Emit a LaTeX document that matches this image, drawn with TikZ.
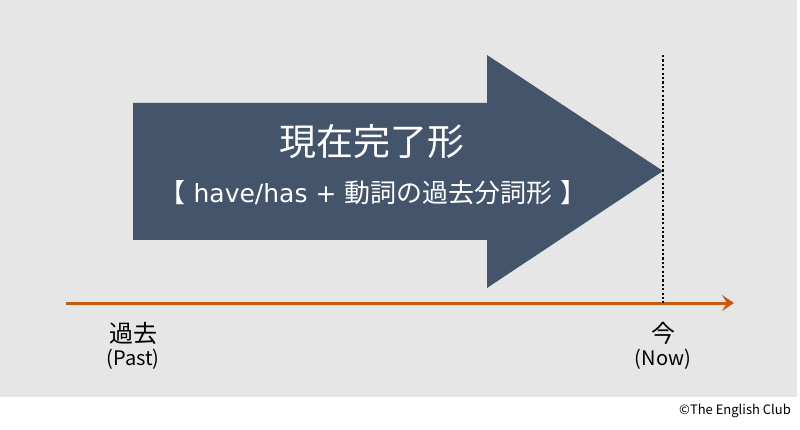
\documentclass[tikz,border=0pt]{standalone}
\usepackage{fontspec}
\setmainfont{Noto Sans CJK JP}
\newfontfamily\latinfont{DejaVu Sans}
\usetikzlibrary{arrows.meta}
\definecolor{bggray}{HTML}{E6E6E6}
\definecolor{navy}{HTML}{44546A}
\definecolor{rust}{HTML}{C55A11}
\tikzset{
  lbl/.style={inner sep=0pt, text=black, font=\fontsize{20}{22}\selectfont},
  cjklbl/.style={inner sep=0pt, text=black, font=\fontsize{24}{26}\selectfont},
  titletext/.style={inner sep=0pt, text=white},
}
\begin{document}
\begin{tikzpicture}[x=1pt,y=-1pt]
\useasboundingbox (0,0) rectangle (800,430);
\fill[white] (0,0) rectangle (800,430);
\fill[bggray] (0,0) rectangle (797,397);
% big arrow
\coordinate (tip) at (663,171);
\fill[navy] (133,103) -- (487,103) -- (487,55) -- (tip) -- (487,288) -- (487,240) -- (133,240) -- cycle;
\node[titletext, font=\fontsize{37}{40}\selectfont] (title) at (372,142) {現在完了形};
\node[titletext, font=\fontsize{26}{28}\selectfont] (sub) at (373,193) {【{\latinfont\fontsize{25}{28}\selectfont\ have/has + }動詞の過去分詞形{\latinfont\fontsize{25}{28}\selectfont\ }】};
% timeline
\coordinate (tstart) at (66,303);
\coordinate (tend) at (734,303);
\coordinate (ntop) at (663,55);
\coordinate (nbot) at (663,303);
\draw[rust, line width=3pt, -{Stealth[length=12pt,width=16pt,inset=5pt]}] (tstart) -- (tend);
\draw[black, line width=2.2pt, dash pattern=on 2.2pt off 2.2pt] (ntop) -- (nbot);
% labels
\node[cjklbl] (past) at (133,333) {過去};
\node[lbl] (pastE) at (133,359) {(Past)};
\node[cjklbl] (now) at (663,333) {今};
\node[lbl] (nowE) at (663,359) {(Now)};
\node[inner sep=0pt, anchor=east, font=\fontsize{13}{15}\selectfont] (copy) at (791,411) {©The English Club};
\end{tikzpicture}
\end{document}
